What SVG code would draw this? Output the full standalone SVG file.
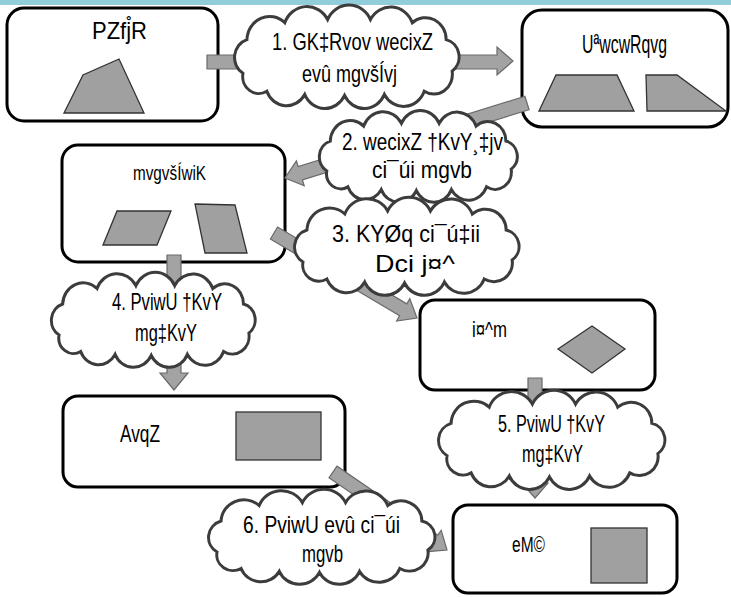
<svg xmlns="http://www.w3.org/2000/svg" xmlns:xlink="http://www.w3.org/1999/xlink" width="731" height="597" viewBox="0 0 731 597">
<style>
.box{fill:#fff;stroke:#000;stroke-width:3}
.shp{fill:#a0a0a0;stroke:#333;stroke-width:1.3}
.arr{fill:#a3a3a3;stroke:#6a6a6a;stroke-width:1.2;stroke-linejoin:miter}
.cl{fill:#fff;stroke:#3c3c3c;stroke-width:3;vector-effect:non-scaling-stroke}
text{font-family:"Liberation Sans",Arial,sans-serif;fill:#000}
.ct{font-size:24px}
</style>
<defs>
<path id="cloud" class="cl" d="M10,62 A17.7,17.7 0 0 1 14,30 A22.7,22.7 0 0 1 52,14 A23.7,23.7 0 0 1 95,11 A23.7,23.7 0 0 1 138,11 A23.2,23.2 0 0 1 180,14 A20.7,20.7 0 0 1 214,30 A16.8,16.8 0 0 1 220,60 A18.6,18.6 0 0 1 192,79 A22.1,22.1 0 0 1 152,82 A22,22 0 0 1 112,83 A22,22 0 0 1 72,82 A21,21 0 0 1 34,79 A16.2,16.2 0 0 1 10,62 Z"/>
</defs>
<rect x="0" y="0" width="731" height="5" fill="#92cddc"/>

<g id="n-quad">
<rect class="box" x="7" y="8" width="211" height="113" rx="17"/>
<text x="92" y="39" style="font-size:24px" textLength="55" lengthAdjust="spacingAndGlyphs">PZfj̊R</text>
<polygon class="shp" points="64,113 83,75 119,59 144,113"/>
</g>
<g id="n-trap">
<rect class="box" x="522" y="10" width="206" height="117" rx="20"/>
<text x="582" y="53" style="font-size:25px" textLength="85" lengthAdjust="spacingAndGlyphs">UªwcwRqvg</text>
<polygon class="shp" points="539,111 556,75 617,75 634,111"/>
<polygon class="shp" points="646,75 677,75 726,111 647,111"/>
</g>
<g id="n-para">
<rect class="box" x="62" y="145" width="223" height="117" rx="16"/>
<text x="133" y="180" style="font-size:20px" textLength="73" lengthAdjust="spacingAndGlyphs">mvgvšÍwiK</text>
<polygon class="shp" points="103,245 117,211 171,211 157,245"/>
<polygon class="shp" points="195,204 235,205 247,253 205,253"/>
</g>
<g id="n-rhombus">
<rect class="box" x="420" y="300" width="235" height="90" rx="15"/>
<text x="472" y="337" style="font-size:22px" textLength="35" lengthAdjust="spacingAndGlyphs">i¤^m</text>
<polygon class="shp" points="558,349 592,326 625,349 592,373"/>
</g>
<g id="n-rect">
<rect class="box" x="63" y="396" width="282" height="91" rx="15"/>
<text x="120" y="442" style="font-size:23px" textLength="40" lengthAdjust="spacingAndGlyphs">AvqZ</text>
<rect class="shp" x="236" y="412" width="85" height="48"/>
</g>
<g id="n-square">
<rect class="box" x="453" y="505" width="224" height="88" rx="15"/>
<text x="512" y="552" style="font-size:22px" textLength="33" lengthAdjust="spacingAndGlyphs">eM©</text>
<rect class="shp" x="591" y="528" width="56" height="55"/>
</g>

<g id="connectors">
<polygon class="arr" points="207,55 497,55 497,47 513,61 497,75 497,69 207,69"/>
<polygon class="arr" points="524.9,96.3 298.2,166.6 296.4,160.9 285,178 304.2,185.7 302.4,179.9 529.1,109.7"/>
<polygon class="arr" points="270.4,239 399.6,315.8 396.6,321 417,318 409.8,298.6 406.8,303.8 277.6,227"/>
<polygon class="arr" points="167,255 181,255 181,373 188,373 174,390 160,373 167,373"/>
<polygon class="arr" points="528,378 542,378 542,483 548,483 535,498 522,483 528,483"/>
<polygon class="arr" points="329,477.8 429.8,546.8 426.5,551.7 447,550 441.2,530.3 437.8,535.2 337,466.2"/>
</g>

<g id="labels">
<g id="c1">
<use xlink:href="#cloud" transform="translate(233,8) scale(0.996,1.054)"/>
<text class="ct" x="272" y="50" textLength="161" lengthAdjust="spacingAndGlyphs">1. GK‡Rvov wecixZ</text>
<text class="ct" x="302" y="82" textLength="95" lengthAdjust="spacingAndGlyphs">evû mgvšÍvj</text>
</g>
<g id="c2">
<use xlink:href="#cloud" transform="translate(318,113) scale(0.878,0.935)"/>
<text class="ct" x="342" y="150" textLength="161" lengthAdjust="spacingAndGlyphs">2. wecixZ †KvY¸‡jv</text>
<text class="ct" x="372" y="178" textLength="100" lengthAdjust="spacingAndGlyphs">ci¯úi mgvb</text>
</g>
<g id="c3">
<use xlink:href="#cloud" transform="translate(293,200) scale(0.996,1)"/>
<text class="ct" x="332" y="242" textLength="148" lengthAdjust="spacingAndGlyphs">3. KYØq ci¯ú‡ii</text>
<text class="ct" x="375" y="272" textLength="80" lengthAdjust="spacingAndGlyphs">Dci j¤^</text>
</g>
<g id="c4">
<use xlink:href="#cloud" transform="translate(50,275) scale(0.904,0.968)"/>
<text class="ct" x="112" y="310" textLength="110" lengthAdjust="spacingAndGlyphs">4. PviwU †KvY</text>
<text class="ct" x="135" y="341" textLength="62" lengthAdjust="spacingAndGlyphs">mg‡KvY</text>
</g>
<g id="c5">
<use xlink:href="#cloud" transform="translate(437,393) scale(1.004,1.011)"/>
<text class="ct" x="498" y="432" textLength="107" lengthAdjust="spacingAndGlyphs">5. PviwU †KvY</text>
<text class="ct" x="522" y="462" textLength="61" lengthAdjust="spacingAndGlyphs">mg‡KvY</text>
</g>
<g id="c6">
<use xlink:href="#cloud" transform="translate(207,492) scale(1.004,0.968)"/>
<text class="ct" x="243" y="533" textLength="157" lengthAdjust="spacingAndGlyphs">6. PviwU evû ci¯úi</text>
<text class="ct" x="302" y="562" textLength="41" lengthAdjust="spacingAndGlyphs">mgvb</text>
</g>
</g>
</svg>
